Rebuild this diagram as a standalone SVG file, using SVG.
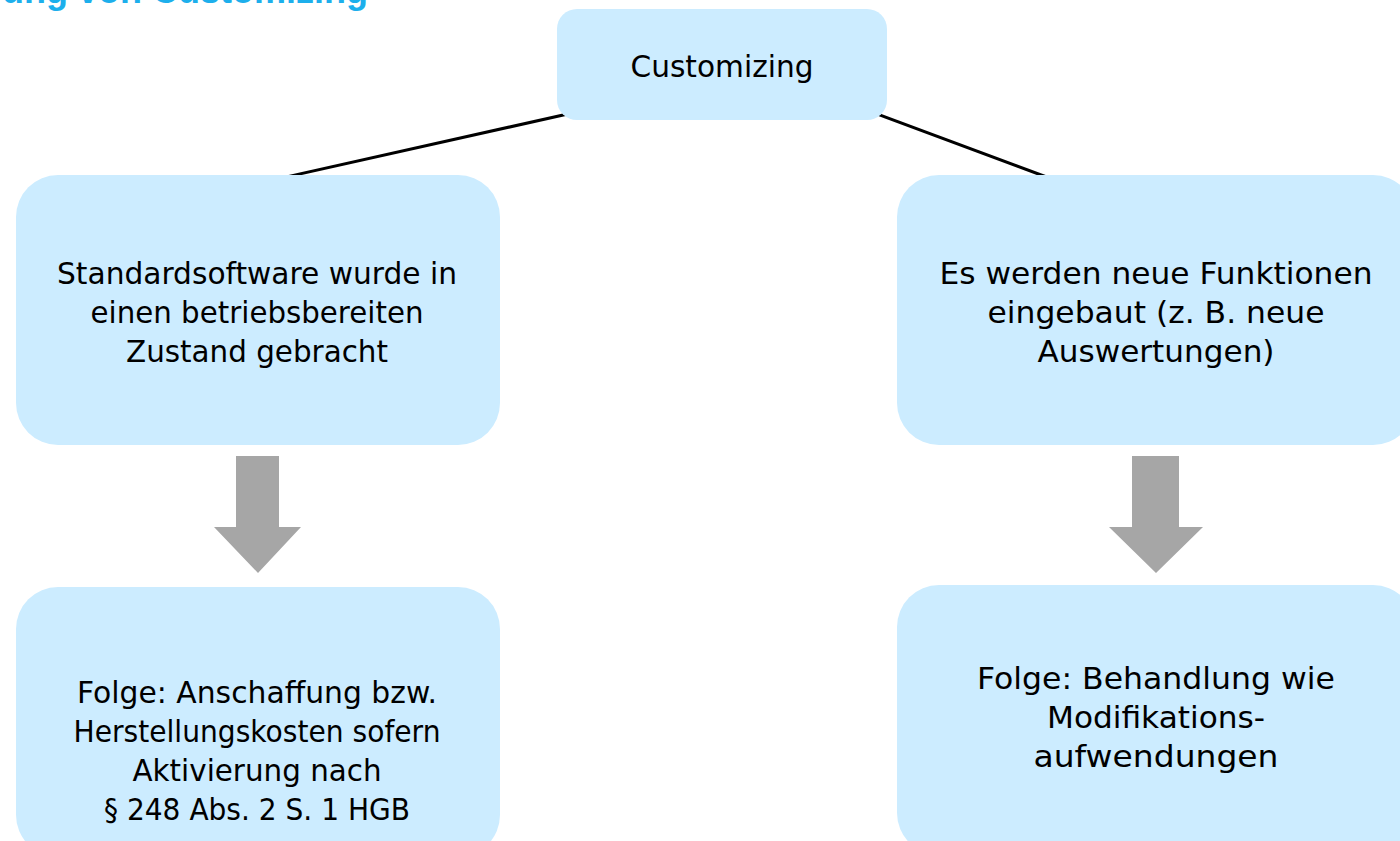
<svg xmlns="http://www.w3.org/2000/svg" width="1400" height="841" viewBox="0 0 1400 841">
<style>
.box{fill:#CCECFF;}
.t{font-family:"DejaVu Sans","Liberation Sans",sans-serif;font-size:31px;fill:#000;text-anchor:middle;}
.arr{fill:#A6A6A6;}
.ln{stroke:#000;stroke-width:3;fill:none;}
.title{font-family:"Liberation Sans",Arial,sans-serif;font-weight:bold;font-size:36px;fill:#1DAFEC;text-anchor:end;}
</style>
<rect width="1400" height="841" fill="#FFFFFF"/>
<text class="title" x="368" y="3">ung von Customizing</text>
<g id="connectors">
<line class="ln" x1="590" y1="109" x2="270" y2="180.6"/>
<line class="ln" x1="860" y1="107.6" x2="1060" y2="182"/>
<polygon class="arr" points="236,456 279,456 279,527 301,527 258,573 214,527 236,527"/>
<polygon class="arr" points="1132,456 1179,456 1179,527 1203,527 1156,573 1109,527 1132,527"/>
</g>
<g id="node-customizing">
<rect class="box" x="557" y="9" width="330" height="111" rx="20" ry="20"/>
<text class="t" x="722" y="77" textLength="183" lengthAdjust="spacingAndGlyphs">Customizing</text>
</g>
<g id="node-standard">
<rect class="box" x="16" y="175" width="484" height="270" rx="42" ry="42"/>
<text class="t" x="257" y="284" textLength="400" lengthAdjust="spacingAndGlyphs">Standardsoftware wurde in</text>
<text class="t" x="257" y="323" textLength="333" lengthAdjust="spacingAndGlyphs">einen betriebsbereiten</text>
<text class="t" x="257" y="362" textLength="262" lengthAdjust="spacingAndGlyphs">Zustand gebracht</text>
</g>
<g id="node-funktionen">
<rect class="box" x="897" y="175" width="518" height="270" rx="42" ry="42"/>
<text class="t" x="1156" y="284" textLength="433" lengthAdjust="spacingAndGlyphs">Es werden neue Funktionen</text>
<text class="t" x="1156" y="323" textLength="337" lengthAdjust="spacingAndGlyphs">eingebaut (z. B. neue</text>
<text class="t" x="1156" y="362" textLength="237" lengthAdjust="spacingAndGlyphs">Auswertungen)</text>
</g>
<g id="node-folge-links">
<rect class="box" x="16" y="587" width="484" height="270" rx="42" ry="42"/>
<text class="t" x="257" y="703" textLength="360" lengthAdjust="spacingAndGlyphs">Folge: Anschaffung bzw.</text>
<text class="t" x="257" y="742" textLength="367" lengthAdjust="spacingAndGlyphs">Herstellungskosten sofern</text>
<text class="t" x="257" y="781" textLength="249" lengthAdjust="spacingAndGlyphs">Aktivierung nach</text>
<text class="t" x="257" y="820" textLength="306" lengthAdjust="spacingAndGlyphs">§ 248 Abs. 2 S. 1 HGB</text>
</g>
<g id="node-folge-rechts">
<rect class="box" x="897" y="585" width="518" height="270" rx="42" ry="42"/>
<text class="t" x="1156" y="689" textLength="358" lengthAdjust="spacingAndGlyphs">Folge: Behandlung wie</text>
<text class="t" x="1156" y="728" textLength="218" lengthAdjust="spacingAndGlyphs">Modifikations-</text>
<text class="t" x="1156" y="767" textLength="245" lengthAdjust="spacingAndGlyphs">aufwendungen</text>
</g>
</svg>
